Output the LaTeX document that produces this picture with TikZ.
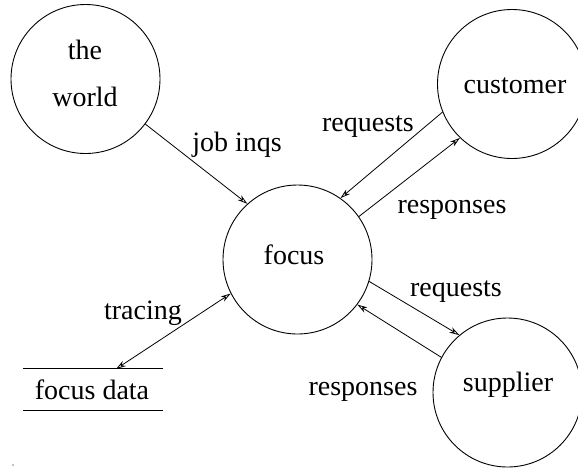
\documentclass[tikz,border=0pt]{standalone}
\usepackage{fontspec}
\setmainfont{Liberation Serif}
\usetikzlibrary{arrows.meta}
\begin{document}
\begin{tikzpicture}[x=1pt,y=-1pt,
  proc/.style={draw,circle,line width=0.9pt,minimum size=149pt,inner sep=0pt},
  txt/.style={inner sep=0pt,font=\fontsize{28}{32}\selectfont},
  flow/.style={line width=0.8pt,-{Stealth[open,length=10pt,width=6pt]}},
  bflow/.style={line width=0.8pt,{Stealth[open,length=10pt,width=6pt]}-{Stealth[open,length=10pt,width=6pt]}}]
\useasboundingbox (0,0) rectangle (578,467);
\node[proc] (world) at (85.5,79) {};
\node[proc] (cust) at (512,84) {};
\node[proc] (focus) at (297.5,259.5) {};
\node[proc] (supp) at (507.5,392.5) {};
\node[minimum width=140pt,minimum height=41pt,inner sep=0pt] (fd) at (93,389.5) {};
\draw[line width=0.9pt] (fd.north west) -- (fd.north east);
\draw[line width=0.9pt] (fd.south west) -- (fd.south east);
\coordinate (fdt) at (116,369);
% texts
\node[txt] (tthe) at (85,50) {the};
\node[txt] (tworld) at (85,97) {world};
\node[txt] (tcust) at (515,86) {customer};
\node[txt] (tfocus) at (294,255) {focus};
\node[txt] (tsupp) at (508,385) {supplier};
\node[txt] (tfd) at (92,390) {focus data};
\node[txt] (ljob) at (237,145) {job inqs};
\node[txt] (lreq1) at (368,127) {requests};
\node[txt] (lresp1) at (452,210) {responses};
\node[txt] (lreq2) at (456,292) {requests};
\node[txt] (lresp2) at (363,392) {responses};
\node[txt] (ltr) at (143,313) {tracing};
% connectors
\draw[flow] (world.-37.9) -- (focus.132.3);
\draw[flow] (cust.202.7) -- (focus.55.6);
\draw[flow] (focus.35.7) -- (cust.226);
\draw[flow] (focus.-17.5) -- (supp.130.2);
\draw[flow] (supp.152.3) -- (focus.-37.4);
\draw[bflow] (fdt) -- (focus.207.4);
\fill (13,465) circle (0.6);
\end{tikzpicture}
\end{document}
